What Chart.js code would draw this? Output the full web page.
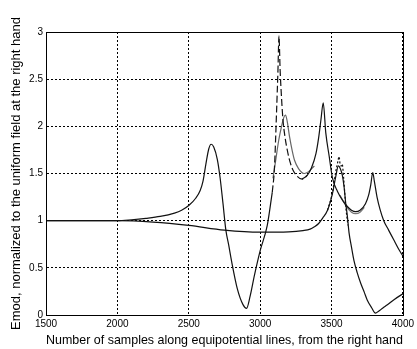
<!DOCTYPE html>
<html>
<head>
<meta charset="utf-8">
<script src="https://cdn.jsdelivr.net/npm/chart.js@4/dist/chart.umd.min.js"></script>
<style>
  html, body { margin: 0; padding: 0; background: #fff; }
  #wrap { width: 417px; height: 349px; }
</style>
</head>
<body>
<div id="wrap"><canvas id="c" width="417" height="349"></canvas></div>
<script>
// Emod along equipotential lines

// outer curve, left part (solid)
const outerLeftX = [1500, 1750, 2000, 2100, 2200, 2300, 2400, 2450, 2500, 2550, 2580, 2600, 2620, 2640, 2657, 2675, 2700, 2720, 2740, 2760, 2780, 2800, 2840, 2880, 2905, 2930, 2960, 3000, 3050, 3085];
const outerLeftY = [1, 1, 1, 1.01, 1.025, 1.045, 1.08, 1.11, 1.16, 1.24, 1.32, 1.42, 1.6, 1.76, 1.81, 1.78, 1.65, 1.45, 1.18, 0.9, 0.74, 0.57, 0.28, 0.11, 0.07, 0.2, 0.42, 0.68, 0.95, 1.3];

// sharp peak (dashed)
const peakDashX = [3085, 3100, 3115, 3125, 3132, 3140, 3150, 3160, 3175, 3194, 3210, 3229, 3260, 3294, 3330];
const peakDashY = [1.3, 1.55, 2.15, 2.6, 2.96, 2.6, 2.3, 2.07, 1.88, 1.72, 1.62, 1.54, 1.47, 1.44, 1.48];

// outer curve, right part (solid)
const outerRightX = [3294, 3330, 3360, 3391, 3410, 3426, 3442, 3460, 3484, 3507, 3542, 3580, 3611, 3640, 3669, 3700, 3738, 3760, 3775, 3789, 3800, 3819, 3840, 3866, 3900, 3935, 3970, 4000];
const outerRightY = [1.44, 1.48, 1.56, 1.71, 1.88, 2.07, 2.25, 1.93, 1.68, 1.45, 1.31, 1.21, 1.15, 1.11, 1.095, 1.11, 1.18, 1.27, 1.38, 1.51, 1.42, 1.25, 1.12, 1.0, 0.9, 0.8, 0.7, 0.625];

// lower peak variant (grey)
const peakGreyX = [3090, 3110, 3130, 3150, 3165, 3178, 3190, 3206, 3225, 3241, 3270, 3310, 3340, 3380];
const peakGreyY = [1.45, 1.65, 1.85, 2.0, 2.09, 2.12, 2.05, 1.89, 1.74, 1.64, 1.55, 1.5, 1.52, 1.58];
const valleyGreyX = [3560, 3600, 3640, 3669, 3700, 3730];
const valleyGreyY = [1.27, 1.16, 1.09, 1.075, 1.09, 1.14];

// inner curve (solid)
const innerX = [1500, 2000, 2250, 2500, 2750, 3000, 3200, 3300, 3350, 3380, 3410, 3437, 3472, 3507, 3530, 3548, 3562, 3576, 3588, 3600, 3611, 3623, 3640, 3657, 3680, 3704, 3730, 3750, 3780, 3808, 3830, 3860, 3889, 3940, 4000];
const innerY = [1, 1, 0.985, 0.95, 0.9, 0.878, 0.882, 0.895, 0.91, 0.935, 0.97, 1.025, 1.11, 1.29, 1.47, 1.58, 1.55, 1.48, 1.36, 1.18, 1.05, 0.87, 0.72, 0.58, 0.45, 0.34, 0.24, 0.16, 0.08, 0.02, 0.04, 0.075, 0.106, 0.165, 0.225];

// inner peak variant (dotted)
const innerDotX = [3472, 3507, 3530, 3545, 3553, 3560, 3568, 3575, 3585, 3600, 3615];
const innerDotY = [1.11, 1.3, 1.52, 1.63, 1.68, 1.6, 1.58, 1.6, 1.45, 1.15, 0.95];

const xTicks = [1500, 2000, 2500, 3000, 3500, 4000];
const yTicks = [0, 0.5, 1, 1.5, 2, 2.5, 3];

const pts = (xs, ys) => xs.map((x, i) => ({ x, y: ys[i] }));

function line(xs, ys, color, dash) {
  return {
    data: pts(xs, ys),
    borderColor: color,
    borderWidth: 1.2,
    borderDash: dash || [],
    pointRadius: 0,
    fill: false,
    cubicInterpolationMode: 'monotone',
  };
}

// box round the plot, like the matlab axes
const frame = {
  id: 'frame',
  afterDraw(chart) {
    const { ctx, chartArea: a } = chart;
    ctx.save();
    ctx.strokeStyle = '#000';
    ctx.lineWidth = 1;
    ctx.setLineDash([]);
    ctx.strokeRect(Math.round(a.left) + 0.5, Math.round(a.top) + 0.5, Math.round(a.right - a.left), Math.round(a.bottom - a.top));
    ctx.restore();
  }
};

const tickFont = { family: 'Liberation Sans, Arial, sans-serif', size: 10 };
const titleFont = { family: 'Liberation Sans, Arial, sans-serif', size: 13 };

new Chart(document.getElementById('c'), {
  type: 'line',
  data: {
    datasets: [
      line(outerLeftX, outerLeftY, '#111'),
      line(outerRightX, outerRightY, '#111'),
      line(peakDashX, peakDashY, '#111', [7, 3]),
      line(innerX, innerY, '#111'),
      line(innerDotX, innerDotY, '#111', [2, 2]),
      line(peakGreyX, peakGreyY, '#666'),
      line(valleyGreyX, valleyGreyY, '#777'),
    ]
  },
  options: {
    responsive: false,
    animation: false,
    devicePixelRatio: 1,
    layout: { padding: { top: 32, right: 11, left: 0, bottom: 0 } },
    plugins: { legend: { display: false }, tooltip: { enabled: false } },
    scales: {
      x: {
        type: 'linear',
        min: 1500, max: 4000,
        afterBuildTicks: s => { s.ticks = xTicks.map(v => ({ value: v })); },
        afterFit: s => { s.height = 34; },
        ticks: { color: '#000', font: tickFont, padding: 3, maxRotation: 0, callback: v => String(v) },
        grid: { color: '#000', lineWidth: 1, drawTicks: false },
        border: { display: true, color: '#000', dash: [2, 2] },
        title: { display: true, text: 'Number of samples along equipotential lines, from the right hand', color: '#000', font: titleFont, padding: { top: 0, bottom: 1 } }
      },
      y: {
        min: 0, max: 3,
        afterBuildTicks: s => { s.ticks = yTicks.map(v => ({ value: v })); },
        afterFit: s => { s.width = 46; },
        ticks: { color: '#000', font: tickFont, padding: 3, callback: v => String(v) },
        grid: { color: '#000', lineWidth: 1, drawTicks: false },
        border: { display: true, color: '#000', dash: [2, 2] },
        title: { display: true, text: 'Emod, normalized to the uniform field at the right hand', color: '#000', font: titleFont, padding: { top: 9, bottom: 0 } }
      }
    }
  },
  plugins: [frame]
});
</script>
</body>
</html>
